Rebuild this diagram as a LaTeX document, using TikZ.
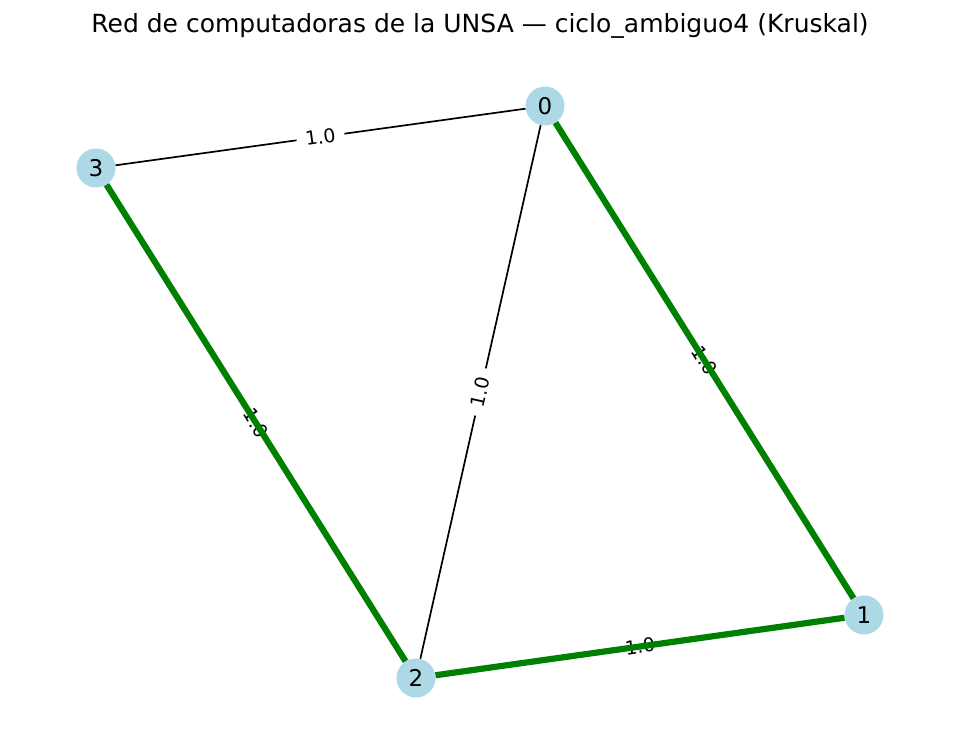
\documentclass[tikz,border=0pt]{standalone}
\usepackage{fontspec}
\setmainfont{DejaVu Sans}
\usetikzlibrary{calc}
\definecolor{nodeblue}{HTML}{ADD8E6}
\definecolor{treegreen}{HTML}{008000}

\begin{document}
\begin{tikzpicture}[
    x=1pt, y=-1pt,
    link/.style={line width=1.7pt, black},
    tree/.style={line width=6.2pt, treegreen},
    host/.style={circle, fill=nodeblue, minimum size=39pt, inner sep=0pt,
                 font=\fontsize{23}{23}\selectfont},
    weight/.style={fill=white, inner xsep=9pt, inner ysep=3pt, font=\fontsize{19}{19}\selectfont},
    tweight/.style={inner sep=1.5pt, font=\fontsize{19}{19}\selectfont}
]
\useasboundingbox (0,0) rectangle (959,754);

% Title
\node[font=\fontsize{25}{25}\selectfont] (title) at (480,26)
    {Red de computadoras de la UNSA — ciclo\_ambiguo4 (Kruskal)};

% Hosts
\node[host] (n0) at (545,106) {0};
\node[host] (n1) at (864,615) {1};
\node[host] (n2) at (416,678) {2};
\node[host] (n3) at (96,168) {3};

% Edges not in the tree
\draw[link] (n3) -- (n0);
\draw[link] (n0) -- (n2);

% Edge weights
\node[weight, rotate=7.9] (w30) at ($(n3)!0.5!(n0)$) {1.0};
\node[weight, rotate=77.3] (w02) at ($(n0)!0.5!(n2)$) {1.0};
\node[tweight, rotate=-57.9] (w01) at ($(n0)!0.5!(n1)$) {1.0};
\node[tweight, rotate=-57.9] (w32) at ($(n3)!0.5!(n2)$) {1.0};
\node[tweight, rotate=8] (w21) at ($(n2)!0.5!(n1)$) {1.0};

% Spanning tree (Kruskal)
\draw[tree] (n0) -- (n1);
\draw[tree] (n3) -- (n2);
\draw[tree] (n2) -- (n1);

\end{tikzpicture}
\end{document}
